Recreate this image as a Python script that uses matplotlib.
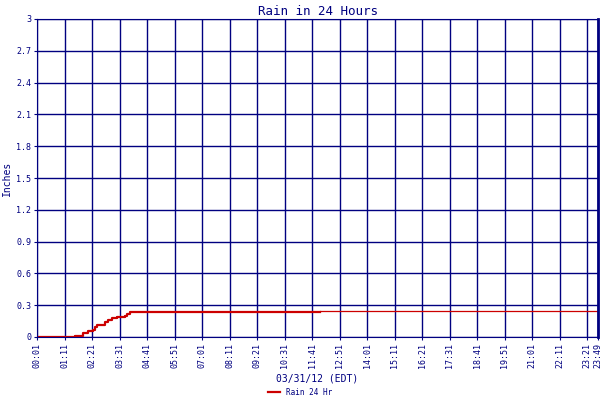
import matplotlib
matplotlib.use("Agg")
import matplotlib.pyplot as plt

# minutes since 00:01
minutes = [0, 88, 97, 114, 117, 130, 143, 148, 152, 168, 173, 181, 190, 203, 224, 228, 237, 720]
rain = [0.0, 0.0, 0.01, 0.01, 0.04, 0.06, 0.07, 0.09, 0.11, 0.11, 0.14, 0.16, 0.175, 0.19, 0.20, 0.215, 0.235, 0.235]
late_minutes = [720, 1428]
late_rain = [0.245, 0.245]
tick_minutes = [0, 70, 140, 210, 280, 350, 420, 490, 560, 630, 700, 770, 840, 910, 980, 1050, 1120, 1190, 1260, 1330, 1400, 1428]
tick_labels = ["00:01", "01:11", "02:21", "03:31", "04:41", "05:51", "07:01", "08:11", "09:21", "10:31", "11:41",
               "12:51", "14:01", "15:11", "16:21", "17:31", "18:41", "19:51", "21:01", "22:11", "23:21", "23:49"]
y_ticks = [0, 0.3, 0.6, 0.9, 1.2, 1.5, 1.8, 2.1, 2.4, 2.7, 3.0]
y_labels = ["0", "0.3", "0.6", "0.9", "1.2", "1.5", "1.8", "2.1", "2.4", "2.7", "3"]

navy = "#000080"
fig = plt.figure(figsize=(6, 4), dpi=100)
ax = fig.add_axes([0.0617, 0.1575, 0.935, 0.795])
ax.step(minutes, rain, where="post", color="#cc0000", lw=1.6, label="Rain 24 Hr")
ax.plot(late_minutes, late_rain, color="#cc0000", lw=0.9)
ax.set_xlim(0, 1428)
ax.set_ylim(0, 3)
ax.set_xticks(tick_minutes)
ax.set_xticklabels(tick_labels, rotation=90, fontsize=6, family="DejaVu Sans Mono", color=navy)
ax.set_yticks(y_ticks)
ax.set_yticklabels(y_labels, fontsize=6, family="DejaVu Sans Mono", color=navy)
ax.grid(True, color=navy, lw=1.0)
for s in ax.spines.values():
    s.set_color(navy)
ax.spines["right"].set_linewidth(2)
ax.tick_params(colors=navy, length=2, pad=2)
ax.set_title("Rain in 24 Hours", fontsize=9, family="DejaVu Sans Mono", color=navy, pad=3)
ax.set_ylabel("Inches", fontsize=7, family="DejaVu Sans Mono", color=navy, labelpad=3)
ax.set_xlabel("03/31/12 (EDT)", fontsize=7, family="DejaVu Sans Mono", color=navy, labelpad=4)
fig.legend(loc="lower center", bbox_to_anchor=(0.5, -0.01), frameon=False,
           prop={"family": "DejaVu Sans Mono", "size": 5.5}, handlelength=1.5, labelcolor=navy)
fig.savefig("out.png", dpi=100, facecolor="white")
